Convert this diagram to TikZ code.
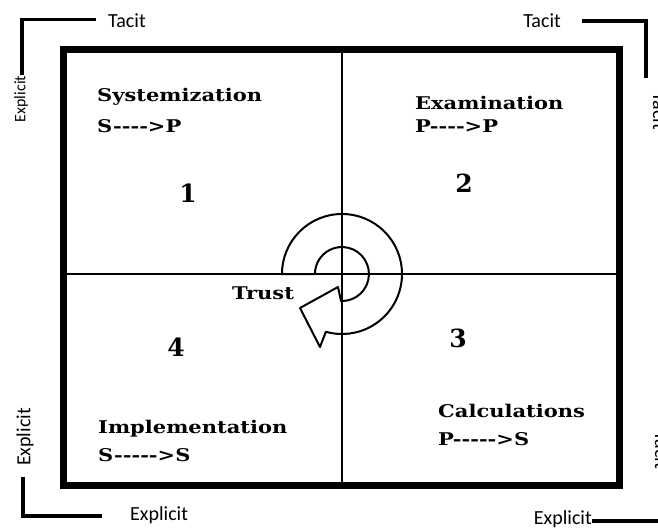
\documentclass[tikz,border=0pt]{standalone}
\usepackage{fontspec}
\newfontfamily\lblfont{Carlito}
\newfontfamily\qfont{DejaVu Serif}
\newcommand\wide[1]{\scalebox{1.2}[1]{#1}}
\begin{document}
\begin{tikzpicture}[x=1pt,y=-1pt,
  quad/.style={font=\qfont\bfseries\fontsize{17.5}{19}\selectfont, inner sep=0pt, anchor=west},
  num/.style={font=\qfont\bfseries\fontsize{25}{27}\selectfont, inner sep=0pt},
  side/.style={font=\lblfont\fontsize{20}{22}\selectfont, inner sep=0pt},
  bracket/.style={line width=3.5pt},
  frame/.style={line width=7pt, line join=miter},
  divider/.style={line width=1.2pt},
  spiral/.style={line width=2pt, line join=round}]
\useasboundingbox (0,0) rectangle (658,527);
\fill[white] (0,0) rectangle (658,527);
% frame
\coordinate (fTL) at (63.5,50);
\coordinate (fBR) at (619.5,485);
\draw[frame] (fTL) rectangle (fBR);
\coordinate (vT) at (342,50); \coordinate (vB) at (342,485);
\coordinate (hL) at (63.5,274); \coordinate (hR) at (619.5,274);
\draw[divider] (vT) -- (vB);
\draw[divider] (hL) -- (hR);
% spiral arrow
\coordinate (c) at (342,274);
\draw[spiral] (282,274) arc[start angle=180, end angle=465.6, radius=60]
  -- (320,347) -- (300,308) -- (338,287) -- (341,301)
  arc[start angle=452, end angle=180, radius=27] -- cycle;
\node[quad, anchor=center] (trust) at (263,293) {\wide{Trust}};
% quadrant texts
\node[quad] (q1a) at (97,97) {\wide{Systemization}};
\node[quad] (q1b) at (97,126) {\wide{S-{}-{}-{}->P}};
\node[quad] (q2a) at (415,103) {\wide{Examination}};
\node[quad] (q2b) at (415,126) {\wide{P-{}-{}-{}->P}};
\node[quad] (q3a) at (438,411) {\wide{Calculations}};
\node[quad] (q3b) at (438,439) {\wide{P-{}-{}-{}-{}->S}};
\node[quad] (q4a) at (98,429) {\wide{Implementation}};
\node[quad] (q4b) at (98,455) {\wide{S-{}-{}-{}-{}->S}};
\node[num] (n1) at (188,193) {1};
\node[num] (n2) at (464,183) {2};
\node[num] (n3) at (458,338) {3};
\node[num] (n4) at (176,347) {4};
% corner brackets
\coordinate (tl1) at (22,75); \coordinate (tl2) at (22,19.5); \coordinate (tl3) at (96,19.5);
\draw[bracket] (tl1) -- (tl2) -- (tl3);
\node[side, anchor=west] (tlT) at (108,21) {Tacit};
\node[side, rotate=90, font=\lblfont\fontsize{16}{18}\selectfont] (tlE) at (21,99) {Explicit};
\coordinate (tr1) at (582,21); \coordinate (tr2) at (646,21); \coordinate (tr3) at (646,78);
\draw[bracket] (tr1) -- (tr2) -- (tr3);
\node[side, anchor=east] (trT) at (561,21) {Tacit};
\node[side, rotate=-90] (trR) at (660,111) {Tacit};
\coordinate (bl1) at (23,477); \coordinate (bl2) at (23,516); \coordinate (bl3) at (102,516);
\draw[bracket] (bl1) -- (bl2) -- (bl3);
\node[side, anchor=west] (blE) at (130,515) {Explicit};
\node[side, rotate=90] (blL) at (25,437) {Explicit};
\coordinate (br1) at (592,521); \coordinate (br2) at (675,521);
\draw[bracket] (br1) -- (br2);
\node[side, anchor=east] (brE) at (592,519) {Explicit};
\node[side, rotate=-90] (brR) at (662,450) {Tacit};
\end{tikzpicture}
\end{document}
